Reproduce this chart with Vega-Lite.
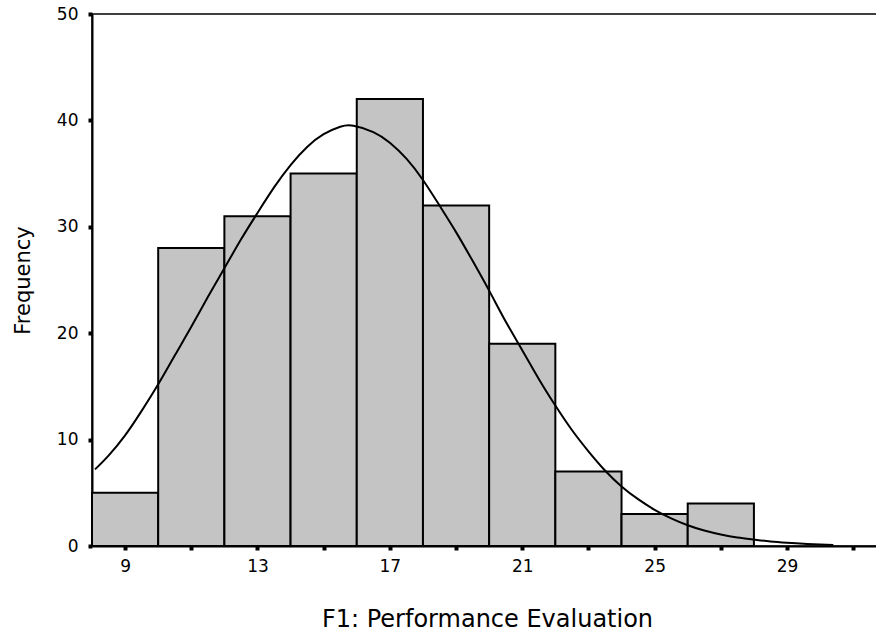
{
  "$schema": "https://vega.github.io/schema/vega-lite/v6.json",
  "autosize": "none",
  "width": 790,
  "height": 532,
  "padding": {"left": 92, "top": 14, "right": 0, "bottom": 93},
  "background": "white",
  "config": {
    "view": {"stroke": "#000000", "strokeWidth": 1.5},
    "font": "DejaVu Sans"
  },
  "datasets": {
    "bins": [
      {"start": 8, "end": 10, "count": 5},
      {"start": 10, "end": 12, "count": 28},
      {"start": 12, "end": 14, "count": 31},
      {"start": 14, "end": 16, "count": 35},
      {"start": 16, "end": 18, "count": 42},
      {"start": 18, "end": 20, "count": 32},
      {"start": 20, "end": 22, "count": 19},
      {"start": 22, "end": 24, "count": 7},
      {"start": 24, "end": 26, "count": 3},
      {"start": 26, "end": 28, "count": 4}
    ],
    "curve": [
      {"x": 8.09, "y": 7.2},
      {"x": 8.5, "y": 8.5},
      {"x": 9.0, "y": 10.4},
      {"x": 9.5, "y": 12.7},
      {"x": 10.0, "y": 15.2},
      {"x": 10.5, "y": 17.9},
      {"x": 11.0, "y": 20.6},
      {"x": 11.5, "y": 23.4},
      {"x": 12.0, "y": 26.1},
      {"x": 12.5, "y": 28.8},
      {"x": 13.0, "y": 31.3},
      {"x": 13.5, "y": 33.7},
      {"x": 14.0, "y": 35.8},
      {"x": 14.5, "y": 37.5},
      {"x": 15.0, "y": 38.7},
      {"x": 15.5, "y": 39.4},
      {"x": 15.9, "y": 39.5},
      {"x": 16.5, "y": 38.9},
      {"x": 17.0, "y": 37.9},
      {"x": 17.5, "y": 36.4},
      {"x": 18.0, "y": 34.4},
      {"x": 18.5, "y": 32.0},
      {"x": 19.0, "y": 29.5},
      {"x": 19.5, "y": 26.8},
      {"x": 20.0, "y": 24.0},
      {"x": 20.5, "y": 21.1},
      {"x": 21.0, "y": 18.4},
      {"x": 21.5, "y": 15.7},
      {"x": 22.0, "y": 13.2},
      {"x": 22.5, "y": 10.9},
      {"x": 23.0, "y": 8.9},
      {"x": 23.5, "y": 7.1},
      {"x": 24.0, "y": 5.6},
      {"x": 24.5, "y": 4.4},
      {"x": 25.0, "y": 3.4},
      {"x": 25.5, "y": 2.6},
      {"x": 26.0, "y": 1.95},
      {"x": 26.5, "y": 1.45},
      {"x": 27.0, "y": 1.08},
      {"x": 27.5, "y": 0.8},
      {"x": 28.0, "y": 0.6},
      {"x": 28.5, "y": 0.42},
      {"x": 29.0, "y": 0.3},
      {"x": 29.5, "y": 0.21},
      {"x": 30.0, "y": 0.15},
      {"x": 30.4, "y": 0.1}
    ]
  },
  "layer": [
    {
      "data": {"name": "bins"},
      "mark": {"type": "rect", "fill": "#c4c4c4", "stroke": "#000000", "strokeWidth": 2},
      "encoding": {
        "x": {
          "field": "start",
          "type": "quantitative",
          "scale": {"domain": [8, 31.87], "nice": false, "zero": false},
          "axis": {
            "title": "F1: Performance Evaluation",
            "titleFont": "DejaVu Sans",
            "titleFontSize": 24,
            "titleFontWeight": "normal",
            "titleColor": "#000000",
            "titlePadding": 33,
            "labelFont": "DejaVu Sans",
            "labelFontSize": 17,
            "labelColor": "#000000",
            "labelPadding": 8,
            "grid": false,
            "domainColor": "#000000",
            "domainWidth": 2,
            "tickColor": "#000000",
            "tickSize": 4,
            "tickWidth": 4,
            "values": [9, 11, 13, 15, 17, 19, 21, 23, 25, 27, 29, 31],
            "labelExpr": "(datum.value - 9) % 4 == 0 ? datum.label : ''"
          }
        },
        "x2": {"field": "end"},
        "y": {
          "field": "count",
          "type": "quantitative",
          "scale": {"domain": [0, 50], "nice": false},
          "axis": {
            "title": "Frequency",
            "titleFont": "DejaVu Sans",
            "titleFontSize": 21,
            "titleFontWeight": "normal",
            "titleColor": "#000000",
            "titlePadding": 23,
            "labelFont": "DejaVu Sans",
            "labelFontSize": 17,
            "labelColor": "#000000",
            "labelPadding": 10,
            "grid": false,
            "domainColor": "#000000",
            "domainWidth": 2,
            "tickColor": "#000000",
            "tickSize": 4,
            "tickWidth": 4,
            "values": [0, 10, 20, 30, 40, 50]
          }
        },
        "y2": {"datum": 0}
      }
    },
    {
      "data": {"name": "curve"},
      "mark": {"type": "line", "color": "#000000", "strokeWidth": 2, "interpolate": "natural"},
      "encoding": {
        "x": {"field": "x", "type": "quantitative"},
        "y": {"field": "y", "type": "quantitative"}
      }
    }
  ]
}
